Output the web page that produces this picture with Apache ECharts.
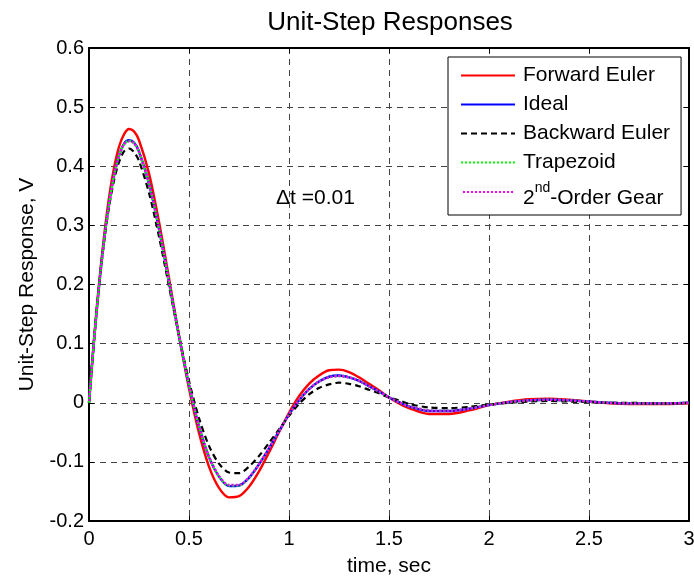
<!DOCTYPE html>
<html>
<head>
<meta charset="utf-8">
<script src="https://cdn.jsdelivr.net/npm/echarts@6.0.0/dist/echarts.min.js"></script>
<style>
  html, body { margin: 0; padding: 0; background: #fff; }
  #chart { width: 694px; height: 577px; }
</style>
</head>
<body>
<div id="chart"></div>
<script>
const FONT = "'Liberation Sans', Arial, sans-serif";

const time = [0, 0.025, 0.05, 0.075, 0.1, 0.125, 0.15, 0.175, 0.2, 0.225, 0.25, 0.3, 0.35, 0.4, 0.45, 0.5,
    0.55, 0.6, 0.65, 0.7, 0.75, 0.8, 0.85, 0.9, 0.95, 1.0, 1.05, 1.1, 1.15, 1.2, 1.25, 1.3, 1.35, 1.4,
    1.45, 1.5, 1.55, 1.6, 1.7, 1.8, 1.9, 2.0, 2.1, 2.2, 2.3, 2.4, 2.5, 2.6, 2.7, 2.8, 2.9, 3.0];

const forwardEuler = [0, 0.107, 0.201, 0.281, 0.347, 0.397, 0.433, 0.454, 0.463, 0.459, 0.444, 0.388, 0.306,
    0.211, 0.114, 0.024, -0.051, -0.108, -0.144, -0.160, -0.158, -0.142, -0.116, -0.084, -0.050, -0.017,
    0.011, 0.032, 0.046, 0.055, 0.056, 0.052, 0.043, 0.032, 0.021, 0.009, -0.001, -0.009, -0.019, -0.019,
    -0.013, -0.004, 0.002, 0.006, 0.007, 0.005, 0.002, -0.001, -0.002, -0.002, -0.002, -0.001];

const ideal = [0, 0.105, 0.197, 0.274, 0.336, 0.384, 0.418, 0.438, 0.444, 0.440, 0.425, 0.371, 0.294,
    0.204, 0.113, 0.030, -0.040, -0.092, -0.125, -0.141, -0.140, -0.127, -0.104, -0.077, -0.048, -0.020,
    0.004, 0.023, 0.036, 0.044, 0.046, 0.043, 0.037, 0.028, 0.019, 0.009, 0.001, -0.006, -0.014, -0.014,
    -0.010, -0.004, 0.001, 0.004, 0.005, 0.004, 0.002, 0.000, -0.001, -0.001, -0.001, 0.000];

const backwardEuler = [0, 0.105, 0.195, 0.271, 0.331, 0.376, 0.407, 0.425, 0.430, 0.424, 0.409, 0.355, 0.281,
    0.197, 0.113, 0.037, -0.026, -0.073, -0.103, -0.118, -0.119, -0.108, -0.090, -0.068, -0.045, -0.022,
    -0.002, 0.014, 0.025, 0.031, 0.034, 0.032, 0.028, 0.022, 0.016, 0.009, 0.004, -0.002, -0.008, -0.009,
    -0.007, -0.003, 0.000, 0.002, 0.003, 0.002, 0.001, 0.000, 0.000, -0.001, -0.001, 0.000];

const trapezoid = [0, 0.105, 0.197, 0.274, 0.336, 0.384, 0.418, 0.437, 0.443, 0.439, 0.424, 0.371, 0.294,
    0.204, 0.113, 0.030, -0.040, -0.092, -0.125, -0.140, -0.140, -0.127, -0.104, -0.077, -0.048, -0.020,
    0.004, 0.023, 0.036, 0.043, 0.045, 0.043, 0.037, 0.028, 0.019, 0.009, 0.001, -0.006, -0.013, -0.014,
    -0.010, -0.004, 0.001, 0.004, 0.005, 0.004, 0.002, 0.000, -0.001, -0.001, -0.001, 0.000];

const gear = [0, 0.104, 0.196, 0.273, 0.335, 0.383, 0.417, 0.437, 0.442, 0.439, 0.424, 0.370, 0.294,
    0.204, 0.113, 0.031, -0.039, -0.091, -0.124, -0.139, -0.139, -0.126, -0.104, -0.077, -0.048, -0.020,
    0.004, 0.023, 0.036, 0.043, 0.045, 0.043, 0.037, 0.028, 0.019, 0.009, 0.001, -0.006, -0.013, -0.014,
    -0.010, -0.004, 0.001, 0.004, 0.005, 0.004, 0.002, 0.000, -0.001, -0.001, -0.001, 0.000];

const names = ['Forward Euler', 'Ideal', 'Backward Euler', 'Trapezoid', '2nd-Order Gear'];

const pairs = (ys) => time.map((t, i) => [t, ys[i]]);

const gridLine = { show: true, lineStyle: { color: '#444', width: 1, type: [6, 5] } };
const boxLine = { show: true, onZero: false, lineStyle: { color: '#000', width: 2 } };
const tick = { show: true, inside: true, length: 5, lineStyle: { color: '#000', width: 1 } };

const chart = echarts.init(document.getElementById('chart'), null, { renderer: 'canvas' });

chart.setOption({
    animation: false,
    backgroundColor: '#fff',
    textStyle: { fontFamily: FONT },
    title: {
        text: 'Unit-Step Responses',
        left: 385,
        top: 5,
        textAlign: 'center',
        textStyle: { fontSize: 26, fontWeight: 'normal', color: '#000', fontFamily: FONT },
    },
    // v6 shrinks the grid to keep labels inside; the reference lets "3" run off the edge
    grid: { left: 89, right: 5, top: 48, bottom: 56, outerBoundsMode: 'none' },
    legend: {
        orient: 'vertical',
        left: 448,
        top: 57,
        padding: [8, 11, 6, 12],
        itemGap: 8,
        itemWidth: 54,
        itemHeight: 14,
        backgroundColor: '#fff',
        borderColor: '#000',
        borderWidth: 1,
        itemStyle: { opacity: 0 },
        data: names,
        formatter: (n) => n === '2nd-Order Gear' ? '{m|2}{sup|nd}{m|-Order Gear}' : n,
        textStyle: {
            fontSize: 21,
            color: '#000',
            fontFamily: FONT,
            padding: [0, 0, 0, 3],
            rich: {
                m: { fontSize: 21, fontFamily: FONT, color: '#000', verticalAlign: 'bottom', padding: [13, 0, 0, 0] },
                sup: { fontSize: 14, fontFamily: FONT, color: '#000', verticalAlign: 'top', padding: [6, 0, 0, 0] },
            },
        },
    },
    graphic: [
        {
            type: 'text',
            left: 276,
            top: 188,
            style: { text: 'Δt =0.01', fontSize: 21, fontFamily: FONT, fill: '#000' },
        },
    ],
    xAxis: [
        {
            type: 'value', position: 'bottom', min: 0, max: 3, interval: 0.5,
            name: 'time, sec', nameLocation: 'middle', nameGap: 35,
            nameTextStyle: { fontSize: 21, color: '#000', fontFamily: FONT },
            axisLine: boxLine, axisTick: tick, splitLine: gridLine,
            axisLabel: { fontSize: 20, color: '#000', margin: 8, fontFamily: FONT },
        },
        {
            type: 'value', position: 'top', min: 0, max: 3, interval: 0.5,
            axisLine: boxLine, axisTick: tick, splitLine: { show: false }, axisLabel: { show: false },
        },
    ],
    yAxis: [
        {
            type: 'value', position: 'left', min: -0.2, max: 0.6, interval: 0.1,
            name: 'Unit-Step Response, V', nameLocation: 'middle', nameGap: 51,
            nameTextStyle: { fontSize: 21, color: '#000', fontFamily: FONT },
            axisLine: boxLine, axisTick: tick, splitLine: gridLine,
            axisLabel: { fontSize: 20, color: '#000', margin: 5, fontFamily: FONT },
        },
        {
            type: 'value', position: 'right', min: -0.2, max: 0.6, interval: 0.1,
            axisLine: boxLine, axisTick: tick, splitLine: { show: false }, axisLabel: { show: false },
        },
    ],
    series: [
        {
            name: names[0], type: 'line', symbol: 'none', smooth: 0.3, z: 3,
            lineStyle: { color: '#ff0000', width: 2.4 }, itemStyle: { color: '#ff0000' },
            data: pairs(forwardEuler),
        },
        {
            name: names[1], type: 'line', symbol: 'none', smooth: 0.3, z: 4,
            lineStyle: { color: '#0000ff', width: 2.4 }, itemStyle: { color: '#0000ff' },
            data: pairs(ideal),
        },
        {
            name: names[2], type: 'line', symbol: 'none', smooth: 0.3, z: 5,
            lineStyle: { color: '#000', width: 2.2, type: [6, 4] }, itemStyle: { color: '#000' },
            data: pairs(backwardEuler),
        },
        {
            name: names[3], type: 'line', symbol: 'none', smooth: 0.3, z: 6,
            lineStyle: { color: '#00ff00', width: 2.4, type: [2, 2] }, itemStyle: { color: '#00ff00' },
            data: pairs(trapezoid),
        },
        {
            name: names[4], type: 'line', symbol: 'none', smooth: 0.3, z: 7,
            lineStyle: { color: '#ff00ff', width: 2.4, type: [2, 2], dashOffset: 2 }, itemStyle: { color: '#ff00ff' },
            data: pairs(gear),
        },
    ],
});
</script>
</body>
</html>
